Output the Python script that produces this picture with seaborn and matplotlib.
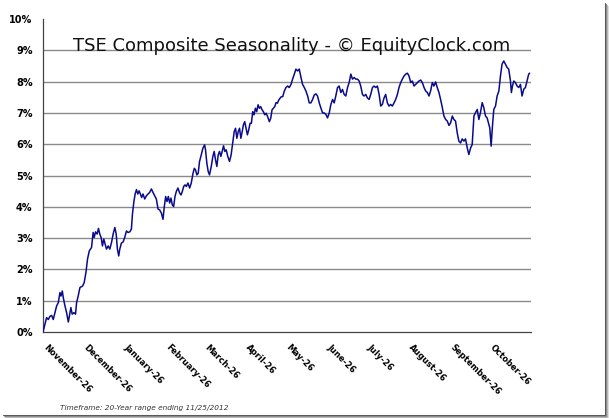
import numpy as np
import pandas as pd
import matplotlib
matplotlib.use('Agg')
import matplotlib.pyplot as plt
import matplotlib.transforms as mtransforms
from matplotlib.lines import Line2D
import seaborn as sns


# dados (dias desde 26/nov, retorno medio em %)

dias = [0, 1.5, 2.7, 4.0, 5.2, 6.5, 7.7, 9.0, 10.2, 11.5,
        12.7, 13.5, 14.5, 15.2, 16.5, 17.7, 19.0, 20.2, 20.9, 21.9,
        23.2, 24.4, 25.2, 26.4, 27.7, 29.7, 30.9, 32.2, 33.4, 34.7,
        36.4, 37.6, 38.4, 39.4, 40.6, 41.6, 42.6, 43.6, 44.6, 45.6,
        46.6, 47.6, 48.9, 50.1, 51.4, 52.6, 53.9, 54.9, 55.8, 56.8,
        57.6, 58.8, 60.1, 61.3, 62.6, 63.8, 65.1, 66.3, 67.1, 68.1,
        69.1, 70.1, 71.1, 72.1, 73.0, 74.0, 75.0, 76.3, 77.5, 78.8,
        80.0, 81.3, 82.5, 83.8, 85.0, 86.3,
        87.5, 88.8, 90.0, 91.0, 92.0, 93.0, 94.0, 95.0, 96.0, 97.0,
        98.0, 99.0, 100.0, 101.2, 102.5, 103.5, 104.5, 105.5, 106.5, 107.5,
        108.7, 110.0, 111.2, 112.5, 113.5, 114.4, 115.4, 116.4, 117.4, 118.7,
        119.9, 121.2, 121.9, 122.9, 123.9, 124.9, 126.2, 127.4, 128.4, 129.4,
        130.4, 131.4, 132.4, 133.4, 134.4, 135.4, 136.4, 137.4, 138.6, 139.9,
        141.1, 142.4, 143.4, 144.4, 145.4, 146.4, 147.4, 148.4, 149.4, 150.3,
        151.3, 152.3, 153.3, 154.3, 155.3, 156.3, 157.3, 158.3, 159.3, 160.3,
        161.3, 162.3, 163.3, 164.3, 165.3, 166.3, 167.3, 168.5, 169.8, 170.8,
        171.8, 172.8, 173.8, 174.8, 175.8, 176.8, 177.8, 178.8, 179.8,
        181.0, 182.2, 183.5, 184.7, 186.0, 187.2, 188.5, 189.7, 191.0, 192.2,
        193.5, 194.7, 196.0, 197.2, 198.5, 199.7, 200.9, 202.2, 203.4, 204.7,
        205.9, 207.2, 208.4, 209.7, 210.9, 212.2, 213.4, 214.7, 215.9, 217.2,
        218.4, 219.6, 220.9, 222.1, 223.4, 224.6, 225.9, 227.1, 228.4, 229.6,
        230.9, 232.1, 233.4, 234.6, 235.9, 237.1, 238.3, 239.6, 240.8, 242.1,
        243.3, 244.6, 245.8, 247.1, 248.3, 249.6, 250.8, 252.1, 253.3, 254.5,
        255.8, 257.0, 258.3, 259.5, 260.8, 262.0, 263.3, 264.5, 265.8, 267.0,
        268.3, 269.5, 270.8,
        272.1, 273.3, 274.5, 275.8, 277.0, 278.3, 279.5, 280.8, 282.0, 283.3,
        284.5, 285.8, 287.0, 288.3, 289.5, 290.7, 292.0, 293.2, 294.5, 295.7,
        297.0, 298.2, 299.5, 300.7, 302.0, 303.2, 304.5, 305.7, 307.0, 308.2,
        309.4, 310.7, 311.9, 313.2, 314.4, 315.7, 316.9, 318.2, 319.4, 320.7,
        321.9, 323.2, 324.4, 325.7, 326.9, 328.1, 329.4, 330.6, 331.9, 333.1,
        334.4, 335.1, 336.1, 337.1,
        338.1, 339.4, 340.6, 341.9, 343.1, 344.3, 345.6, 346.8, 348.1, 349.3,
        350.6, 351.3, 352.1,
        353.1, 354.3, 355.6, 356.8, 358.1, 359.3, 360.6, 361.8, 363.0, 364.3,
        365.0]

retorno = [0.00, 0.25, 0.46, 0.40, 0.50, 0.53, 0.40, 0.62, 0.83, 0.94,
           1.26, 1.15, 1.31, 1.10, 0.83, 0.62, 0.32, 0.62, 0.78, 0.57,
           0.62, 0.57, 0.94, 1.15, 1.42, 1.47, 1.58, 1.90, 2.33, 2.59,
           2.70, 3.18, 3.02, 3.20, 3.13, 3.31, 3.13, 3.02, 2.75, 2.97,
           2.81, 2.65, 2.75, 2.65, 2.86, 3.13, 3.34, 3.13, 2.65, 2.43,
           2.65, 2.84, 2.88, 3.02, 3.23, 3.18, 3.20, 3.29, 3.77, 4.14,
           4.41, 4.55, 4.41, 4.51, 4.41, 4.30, 4.41, 4.25, 4.35, 4.41,
           4.46, 4.57, 4.46, 4.35, 4.25, 3.93,
           3.90, 3.80, 3.60, 4.01, 4.33, 4.17, 4.33, 4.12, 4.28, 4.06,
           4.01, 4.33, 4.49, 4.60, 4.44, 4.38, 4.49, 4.65, 4.70, 4.65,
           4.76, 4.60, 4.76, 5.07, 5.23, 5.18, 5.02, 5.07, 5.45, 5.66,
           5.87, 5.98, 5.82, 5.39, 5.13, 5.02, 5.29, 5.61, 5.77, 5.50,
           5.29, 5.66, 5.77, 5.61, 5.77, 5.95, 5.77, 5.82, 5.61, 5.45,
           5.66, 6.09, 6.40, 6.51, 6.19, 6.40, 6.51, 6.19, 6.40, 6.62,
           6.72, 6.51, 6.30, 6.46, 6.67, 6.67, 7.04, 6.94, 7.15, 7.04,
           7.26, 7.15, 7.20, 7.10, 7.04, 6.94, 6.99, 6.88, 6.72, 6.83,
           7.10, 7.15, 7.20, 7.33, 7.31, 7.41, 7.47, 7.52, 7.52,
           7.70, 7.81, 7.86, 7.81, 7.91, 8.08, 8.24, 8.40, 8.34, 8.40,
           8.13, 7.91, 7.81, 7.70, 7.54, 7.32, 7.32, 7.43, 7.57, 7.61,
           7.54, 7.32, 7.16, 7.00, 7.00, 6.95, 6.84, 7.00, 7.27, 7.43,
           7.32, 7.54, 7.81, 7.86, 7.65, 7.75, 7.59, 7.54, 7.81, 7.97,
           8.24, 8.08, 8.13, 8.08, 8.08, 8.02, 7.86, 7.59, 7.54, 7.59,
           7.48, 7.43, 7.59, 7.81, 7.86, 7.81, 7.86, 7.59, 7.22, 7.27,
           7.48, 7.59, 7.32, 7.22, 7.27, 7.22, 7.32, 7.43, 7.59, 7.81,
           7.97, 8.08, 8.18,
           8.24, 8.27, 8.18, 7.97, 8.02, 7.86, 7.91, 7.97, 8.02, 8.05,
           7.97, 7.81, 7.70, 7.65, 7.54, 7.70, 7.97, 7.86, 7.99, 7.81,
           7.65, 7.43, 7.17, 6.90, 6.79, 6.74, 6.60, 6.68, 6.90, 6.79,
           6.74, 6.36, 6.10, 6.04, 6.17, 6.10, 6.17, 5.88, 5.67, 5.88,
           5.99, 6.90, 7.01, 7.11, 6.79, 7.01, 7.33, 7.17, 6.90, 6.84,
           6.63, 6.52, 5.94, 6.58,
           7.11, 7.22, 7.54, 7.70, 8.18, 8.56, 8.66, 8.56, 8.45, 8.40,
           8.02, 7.65, 7.86,
           8.02, 7.97, 7.86, 7.81, 7.91, 7.54, 7.76, 7.81, 8.02, 8.24,
           8.27]

meses = ['November-26', 'December-26', 'January-26', 'February-26', 'March-26',
         'April-26', 'May-26', 'June-26', 'July-26', 'August-26',
         'September-26', 'October-26']

df = pd.DataFrame({'dia': dias, 'retorno': retorno})

# posicao dos ticks = dia 26 de cada mes
inicio = pd.Timestamp('2011-11-26')
datas_26 = pd.date_range(inicio, periods=13, freq=pd.DateOffset(months=1))
ticks_x = [(d - inicio).days for d in datas_26]


sns.set_style('white')
plt.rcParams['font.family'] = ['DejaVu Sans']

fig = plt.figure(figsize=(6.09, 4.18), dpi=100)
ax = fig.add_axes([0.0706, 0.2057, 0.8013, 0.7488])

# grade horizontal
for v in range(1, 10):
    ax.axhline(v, color='#8a8a8a', lw=1.0, zorder=1)

sns.lineplot(data=df, x='dia', y='retorno', color='#0a0a8c', lw=1.1, ax=ax, zorder=3)

ax.set_xlim(0, ticks_x[-1])
ax.set_ylim(0, 10)
ax.set_xlabel('')
ax.set_ylabel('')

ax.set_yticks(range(0, 11))
ax.set_yticklabels([f'{v}%' for v in range(0, 11)], fontsize=7, fontweight='bold')
ax.tick_params(axis='y', length=3, width=0.8, pad=4.5, colors='#444444', labelcolor='black')

ax.set_xticks(ticks_x)
ax.set_xticklabels(meses + [''], fontsize=6, fontweight='bold',
                   rotation=-45, ha='left', va='top', rotation_mode='anchor')
ax.tick_params(axis='x', length=3, width=0.8, pad=5, colors='#444444', labelcolor='black')

# desloca um pouco os rotulos para a direita
desloc = mtransforms.ScaledTranslation(5 / 100, 0, fig.dpi_scale_trans)
for lbl in ax.get_xticklabels():
    lbl.set_transform(lbl.get_transform() + desloc)

for s in ['top', 'right']:
    ax.spines[s].set_visible(False)
for s in ['left', 'bottom']:
    ax.spines[s].set_color('#444444')
    ax.spines[s].set_linewidth(0.9)

ax.text(0.0615, 0.898, 'TSE Composite Seasonality - \u00a9 EquityClock.com',
        transform=ax.transAxes, fontsize=13, color='#111111', va='baseline', ha='left', zorder=2)

fig.text(60 / 609, 1 - 408 / 418, 'Timeframe: 20-Year range ending 11/25/2012',
         fontsize=5.3, style='italic', color='#333333', va='center', ha='left')

# sombra da moldura (direita e embaixo)
W, H = 609, 418
tons = ['#5a5a5a', '#8c8c8c', '#b8b8b8', '#dedede']
for i, c in enumerate(tons):
    x = (W - 4.5 + i) / W
    y = (3.5 - i) / H
    fig.add_artist(Line2D([x, x], [y, 1 - (3 + i) / H], color=c, lw=0.75, transform=fig.transFigure))
    fig.add_artist(Line2D([(3 + i) / W, x], [y, y], color=c, lw=0.75, transform=fig.transFigure))

fig.savefig('out.png', dpi=100)
